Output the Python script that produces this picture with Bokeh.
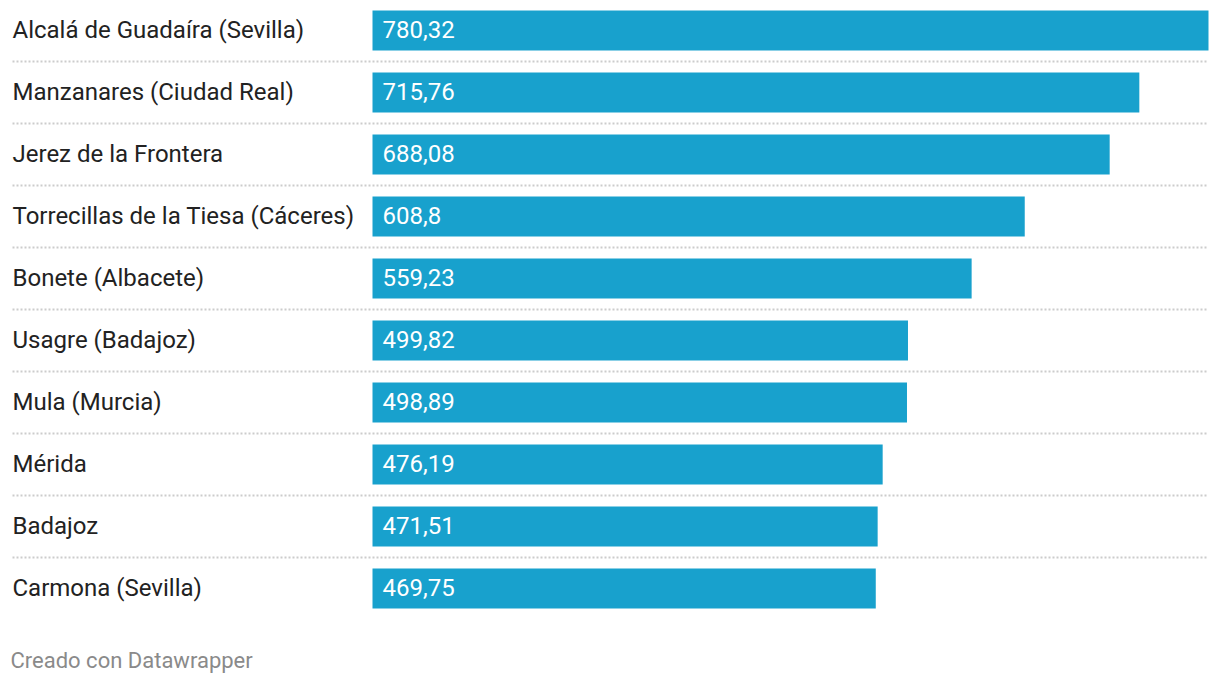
from bokeh.plotting import figure
from bokeh.models import Range1d, ColumnDataSource, Label
from bokeh.core.properties import value
from bokeh.embed import file_html
from bokeh.resources import INLINE

categories = ["Alcalá de Guadaíra (Sevilla)", "Manzanares (Ciudad Real)", "Jerez de la Frontera",
              "Torrecillas de la Tiesa (Cáceres)", "Bonete (Albacete)", "Usagre (Badajoz)",
              "Mula (Murcia)", "Mérida", "Badajoz", "Carmona (Sevilla)"]
values = [780.32, 715.76, 688.08, 608.8, 559.23, 499.82, 498.89, 476.19, 471.51, 469.75]
value_labels = ["780,32", "715,76", "688,08", "608,8", "559,23", "499,82", "498,89", "476,19", "471,51", "469,75"]
footer = "Creado con Datawrapper"

W, H = 1212, 676
bar_left_px = 372
bar_right_px = 1208
scale = (bar_right_px - bar_left_px) / max(values)
x_start = -bar_left_px / scale
x_end = (W - bar_left_px) / scale
row_px = 62
first_px = 30
y_top = -first_px / row_px
y_bottom = (H - first_px) / row_px

idx = list(range(len(categories)))
src = ColumnDataSource(dict(y=idx, v=values, cat=categories, lab=value_labels,
                            zero=[0] * len(idx), left=[x_start] * len(idx)))

p = figure(width=W, height=H, output_backend="svg", toolbar_location=None,
           x_range=Range1d(x_start, x_end), y_range=Range1d(y_bottom, y_top),
           min_border=0, min_border_left=0, min_border_right=0, min_border_top=0, min_border_bottom=0)
p.axis.visible = False
p.grid.visible = False
p.outline_line_color = None
p.background_fill_color = "white"
p.border_fill_color = "white"

# separators
sep_y = [i + 0.5 for i in idx[:-1]]
p.segment(x0=[x_start + 12 / scale] * len(sep_y), x1=[max(values)] * len(sep_y), y0=sep_y, y1=sep_y,
          line_color="#cccccc", line_width=2, line_dash="2 2")

p.hbar(y="y", left="zero", right="v", height=40 / row_px, source=src,
       fill_color="#18a1cd", line_color=None)

p.text(x="left", y="y", text="cat", source=src, x_offset=12, y_offset=-1,
       text_font=value("Roboto"), text_font_size="24px", text_color="#222222",
       text_baseline="middle", text_align="left")
p.text(x="zero", y="y", text="lab", source=src, x_offset=10, y_offset=-1,
       text_font=value("Roboto"), text_font_size="24px", text_color="#ffffff",
       text_baseline="middle", text_align="left")

p.add_layout(Label(x=10, y=H - 660, x_units="screen", y_units="screen", text=footer,
                   text_font="Roboto", text_font_size="22px", text_color="#8a8a8a",
                   text_baseline="middle", text_align="left"))

open("out.html", "w").write(file_html(p, INLINE))
